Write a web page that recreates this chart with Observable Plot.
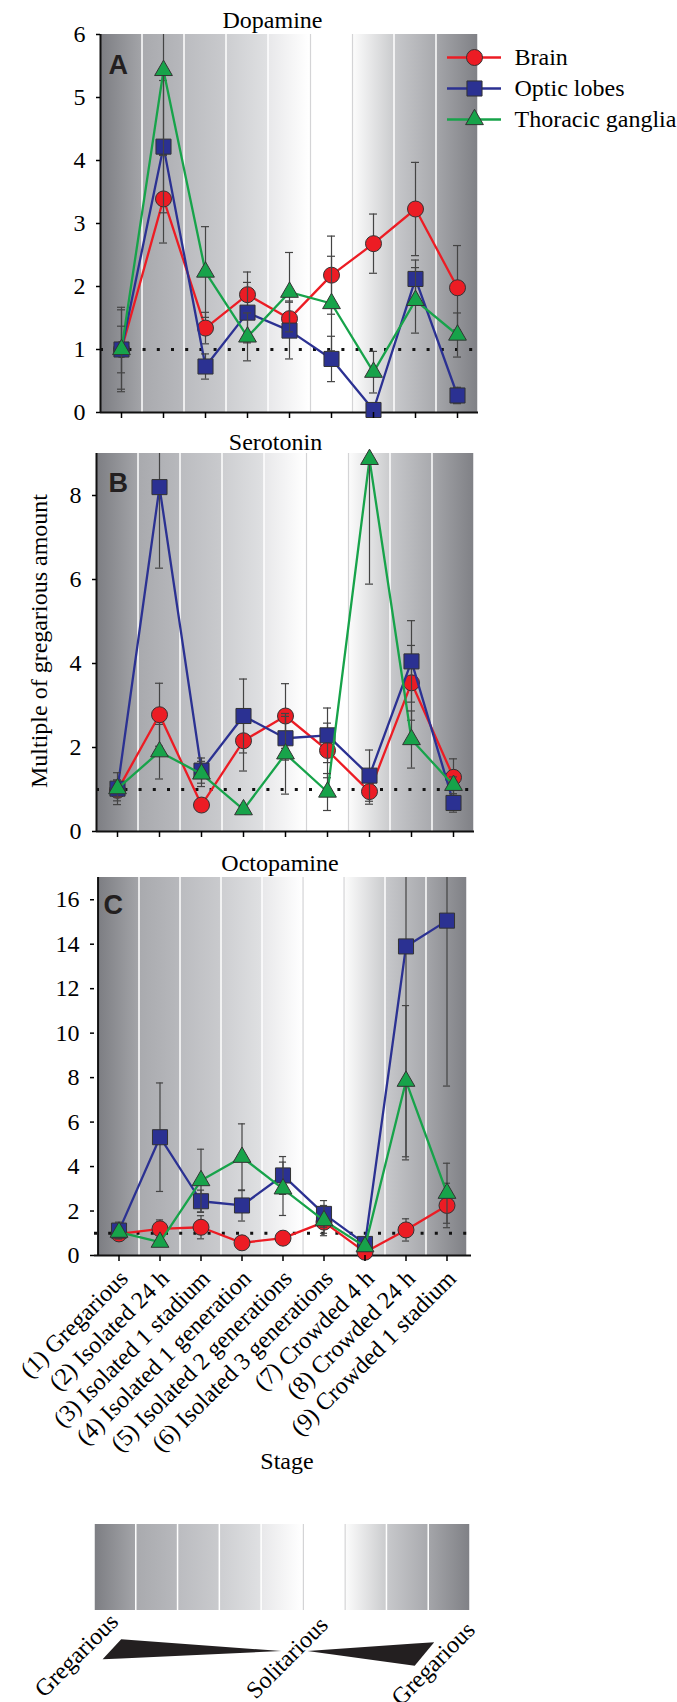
<!DOCTYPE html>
<html><head><meta charset="utf-8">
<script src="https://cdn.jsdelivr.net/npm/d3@7"></script>
<script src="https://cdn.jsdelivr.net/npm/@observablehq/plot@0.6"></script>
<style>
html,body{margin:0;padding:0;background:#fff;overflow:hidden;}
#root{position:relative;width:677px;height:1702px;}
.layer{position:absolute;left:0;}
#root svg{font-family:"Liberation Serif","Times New Roman",Times,"DejaVu Serif",serif !important;}
</style></head><body>
<svg width="0" height="0" style="position:absolute"><defs id="defs"></defs></svg>
<div id="root"></div>
<script>
// ---------- data ----------
const stages = ["(1) Gregarious","(2) Isolated 24 h","(3) Isolated 1 stadium","(4) Isolated 1 generation","(5) Isolated 2 generations","(6) Isolated 3 generations","(7) Crowded 4 h","(8) Crowded 24 h","(9) Crowded 1 stadium"];
const seriesNames = ["Brain","Optic lobes","Thoracic ganglia"];
const seriesColors = ["#ec1c24","#2b3192","#17a34a"];
const seriesSymbols = ["circle","square","triangle"];
const seriesRadius = [8, 8.5, 6.6];

// background shading of each stage band (left edge colour, right edge colour)
const shadeLeft  = ["#7d7e83","#a9aaae","#bbbcc0","#cdced1","#e8e8ea","#ffffff","#fcfcfc","#c7c8cb","#a4a5a9"];
const shadeRight = ["#a3a4a8","#b7b8bc","#c9cacd","#dfe0e2","#ffffff","#ffffff","#cbccce","#a9aaae","#808186"];

// Dopamine
const dopamineBrain       = [1.00, 3.39, 1.34, 1.87, 1.49, 2.18, 2.68, 3.23, 1.98];
const dopamineBrainErr    = [0.63, 0.70, 0.25, 0.36, 0.28, 0.62, 0.47, 0.74, 0.67];
const dopamineOptic       = [1.00, 4.22, 0.73, 1.585, 1.30, 0.85, 0.04, 2.12, 0.27];
const dopamineOpticErr    = [0.67, 1.05, 0.20, 0.48, 0.45, 0.36, 0.05, 0.30, 0.13];
const dopamineThoracic    = [1.00, 5.43, 2.23, 1.20, 1.91, 1.73, 0.64, 1.78, 1.23];
const dopamineThoracicErr = [0.37, 1.35, 0.72, 0.38, 0.63, 0.75, 0.33, 0.52, 0.35];
// Serotonin
const serotoninBrain       = [0.98, 2.78, 0.63, 2.16, 2.75, 1.93, 0.95, 3.54, 1.29];
const serotoninBrainErr    = [0.25, 0.75, 0.10, 0.72, 0.77, 0.65, 0.30, 0.89, 0.44];
const serotoninOptic       = [1.02, 8.20, 1.45, 2.75, 2.22, 2.29, 1.33, 4.05, 0.68];
const serotoninOpticErr    = [0.38, 1.93, 0.30, 0.88, 0.52, 0.65, 0.61, 0.97, 0.22];
const serotoninThoracic    = [1.02, 1.90, 1.37, 0.52, 1.85, 0.94, 8.86, 2.19, 1.10];
const serotoninThoracicErr = [0.20, 0.65, 0.30, 0.10, 0.96, 0.44, 2.97, 0.68, 0.20];
// Octopamine
const octopamineBrain       = [0.97, 1.20, 1.27, 0.57, 0.78, 1.50, 0.15, 1.15, 2.25];
const octopamineBrainErr    = [0.20, 0.40, 0.52, 0.10, 0.10, 0.50, 0.10, 0.50, 1.00];
const octopamineOptic       = [1.12, 5.32, 2.44, 2.25, 3.60, 1.87, 0.52, 13.9, 15.06];
const octopamineOpticErr    = [0.38, 2.44, 0.50, 0.70, 0.85, 0.60, 0.10, 9.60, 7.44];
const octopamineThoracic    = [1.05, 0.60, 3.37, 4.42, 3.00, 1.57, 0.40, 7.84, 2.80];
const octopamineThoracicErr = [0.20, 0.10, 1.41, 1.50, 1.20, 0.68, 0.10, 3.40, 1.35];

const dopamineTicks = [0,1,2,3,4,5,6];
const serotoninTicks = [0,2,4,6,8];
const octopamineTicks = [0,2,4,6,8,10,12,14,16];

// stage schematic (x in stage units, y in bar-height units)
const phaseNames = ["Gregarious","Solitarious","Gregarious"];
const phaseX = [0.60, 5.62, 9.14];
const phaseY = [-0.147, -0.186, -0.244];
const wedgeLeftX = [0.206, 0.651, 4.485];
const wedgeLeftLow = [-0.573, -0.563, -0.477];
const wedgeLeftHigh = [-0.573, -0.341, -0.477];
const wedgeRightX = [5.108, 7.676, 8.143];
const wedgeRightLow = [-0.477, -0.648, -0.376];
const wedgeRightHigh = [-0.477, -0.391, -0.376];

// ---------- gradients ----------
const defs = d3.select("#defs");
stages.forEach((s, i) => {
  const g = defs.append("linearGradient").attr("id", "shade" + i)
    .attr("x1", "0").attr("x2", "1").attr("y1", "0").attr("y2", "0");
  g.append("stop").attr("offset", "0").attr("stop-color", shadeLeft[i]);
  g.append("stop").attr("offset", "1").attr("stop-color", shadeRight[i]);
});

const W = 677;
const FONT = "Liberation Serif";
const SANS = "Liberation Sans";
const root = document.getElementById("root");
function place(el, top) {
  const d = document.createElement("div");
  d.className = "layer";
  d.style.top = top + "px";
  d.appendChild(el);
  root.appendChild(d);
}
const fmtInt = d => String(d);

function makeSeries(vals) {
  return seriesNames.map((n, k) => ({name: n, values: vals[k][0], errors: vals[k][1],
    color: seriesColors[k], symbol: seriesSymbols[k], r: seriesRadius[k]}));
}

function panel(cfg) {
  const {series, yMax, yTicks, ml, mr, mt, mb, height, title, titleDx, titleDy, letter, letterDx, letterDy, extra = [], showLabels = false} = cfg;
  const bw = (W - ml - mr) / stages.length;
  const bands = stages.map((s, i) => ({stage: s, y1: 0, y2: yMax, grad: "url(#shade" + i + ")"}));
  const capInset = (bw - 8) / 2;
  const marks = [
    Plot.barY(bands, {x: "stage", y1: "y1", y2: "y2", fill: "grad", insetLeft: 0.75, insetRight: 0.75}),
    Plot.ruleX([stages[5], stages[6]], {x: d => d, dx: -bw / 2, stroke: "#d4d4d6", strokeWidth: 1.2}),
    Plot.ruleY([1], {stroke: "#111", strokeWidth: 3, strokeDasharray: "3,11.2"}),
    Plot.ruleY([0], {stroke: "#111", strokeWidth: 2}),
    Plot.ruleX([stages[0]], {x: d => d, dx: -bw / 2, stroke: "#111", strokeWidth: 2})
  ];
  series.forEach(s => {
    const rows = stages.map((st, i) => ({stage: st, v: s.values[i], lo: s.values[i] - s.errors[i], hi: s.values[i] + s.errors[i]}));
    marks.push(
      Plot.line(rows, {x: "stage", y: "v", stroke: s.color, strokeWidth: 2.3}),
      Plot.ruleX(rows, {x: "stage", y1: "lo", y2: "hi", stroke: "#444", strokeWidth: 1.2, clip: true}),
      Plot.tickY(rows, {x: "stage", y: "hi", stroke: "#444", strokeWidth: 1.2, insetLeft: capInset, insetRight: capInset, clip: true}),
      Plot.tickY(rows, {x: "stage", y: "lo", stroke: "#444", strokeWidth: 1.2, insetLeft: capInset, insetRight: capInset, clip: true}),
      Plot.dot(rows, {x: "stage", y: "v", symbol: s.symbol, r: s.r, fill: s.color, stroke: "#333", strokeWidth: 1})
    );
  });
  marks.push(
    Plot.axisY({ticks: yTicks, tickFormat: fmtInt, tickSize: 4, tickPadding: 11, strokeWidth: 1.5, label: null, fontFamily: FONT, fontSize: 24}),
    Plot.axisX({tickSize: 6, strokeWidth: 1.5, tickFormat: () => "", label: null}),
    Plot.text([title], {text: d => d, frameAnchor: "top", textAnchor: "middle", dx: titleDx, dy: titleDy, lineAnchor: "bottom", fontFamily: FONT, fontSize: 24}),
    Plot.text([letter], {text: d => d, frameAnchor: "top-left", textAnchor: "start", lineAnchor: "bottom", dx: letterDx, dy: letterDy,
      fontFamily: SANS, fontWeight: "bold", fontSize: 27, fill: "#231f20"})
  );
  if (showLabels) {
    marks.push(Plot.axisX({tickSize: 0, tickPadding: 19, tickRotate: -45, dx: 5, label: null, fontFamily: FONT, fontSize: 24}));
  }
  marks.push(...extra);
  return Plot.plot({
    width: W, height, marginLeft: ml, marginRight: mr, marginTop: mt, marginBottom: mb,
    style: {fontFamily: FONT, fontSize: "24px", color: "#000", background: "transparent", overflow: "visible"},
    x: {type: "band", domain: stages, padding: 0, label: null},
    y: {domain: [0, yMax], label: null},
    color: {type: "identity"},
    marks
  });
}

// Panel A
place(panel({
  series: makeSeries([[dopamineBrain, dopamineBrainErr], [dopamineOptic, dopamineOpticErr], [dopamineThoracic, dopamineThoracicErr]]),
  yMax: 6, yTicks: dopamineTicks, ml: 100, mr: 199, mt: 34, mb: 18, height: 430,
  title: "Dopamine", titleDx: -17, titleDy: -6.5, letter: "A", letterDx: 8, letterDy: 39
}), 0);

// Panel B
place(panel({
  series: makeSeries([[serotoninBrain, serotoninBrainErr], [serotoninOptic, serotoninOpticErr], [serotoninThoracic, serotoninThoracicErr]]),
  yMax: 9, yTicks: serotoninTicks, ml: 96, mr: 203, mt: 23, mb: 29, height: 430,
  title: "Serotonin", titleDx: -10, titleDy: -4, letter: "B", letterDx: 12, letterDy: 38,
  extra: [Plot.text(["Multiple of gregarious amount"], {text: d => d, frameAnchor: "left", textAnchor: "middle", lineAnchor: "middle", rotate: -90, dx: -57, dy: -1.5, fontFamily: FONT, fontSize: 24})]
}), 430);

// Panel C
place(panel({
  series: makeSeries([[octopamineBrain, octopamineBrainErr], [octopamineOptic, octopamineOpticErr], [octopamineThoracic, octopamineThoracicErr]]),
  yMax: 17, yTicks: octopamineTicks, ml: 94, mr: 206, mt: 17, mb: 225, height: 620,
  title: "Octopamine", titleDx: -3, titleDy: -7, letter: "C", letterDx: 9, letterDy: 36, showLabels: true,
  extra: [Plot.text(["Stage"], {text: d => d, frameAnchor: "bottom", textAnchor: "middle", dx: 4, dy: 213, fontFamily: FONT, fontSize: 24})]
}), 860);

// Stage schematic bar
const barBands = stages.map((s, i) => ({x1: i, x2: i + 1, y1: 0, y2: 1, grad: "url(#shade" + i + ")"}));
const wedgeL = wedgeLeftX.map((x, i) => ({x, lo: wedgeLeftLow[i], hi: wedgeLeftHigh[i]}));
const wedgeR = wedgeRightX.map((x, i) => ({x, lo: wedgeRightLow[i], hi: wedgeRightHigh[i]}));
const phases = phaseNames.map((n, i) => ({n, x: phaseX[i], y: phaseY[i]}));
place(Plot.plot({
  width: W, height: 222, marginLeft: 94, marginRight: 207, marginTop: 44, marginBottom: 0,
  style: {fontFamily: FONT, fontSize: "24px", color: "#000", background: "transparent", overflow: "visible"},
  x: {domain: [0, 9], axis: null},
  y: {domain: [-1.07, 1], axis: null},
  color: {type: "identity"},
  marks: [
    Plot.rect(barBands, {x1: "x1", x2: "x2", y1: "y1", y2: "y2", fill: "grad", insetLeft: 0.75, insetRight: 0.75}),
    Plot.ruleX([5, 6], {x: d => d, y1: 0, y2: 1, stroke: "#d4d4d6", strokeWidth: 1.2}),
    Plot.areaY(wedgeL, {x: "x", y1: "lo", y2: "hi", fill: "#231f20"}),
    Plot.areaY(wedgeR, {x: "x", y1: "lo", y2: "hi", fill: "#231f20"}),
    Plot.text(phases, {x: "x", y: "y", text: "n", rotate: -45, textAnchor: "end", lineAnchor: "bottom", fontFamily: FONT, fontSize: 24})
  ]
}), 1480);

// Legend (overlaid on panel A)
const legendRows = seriesNames.map((n, k) => ({n, c: seriesColors[k]}));
place(Plot.plot({
  width: W, height: 140, marginLeft: 447, marginRight: 176, marginTop: 57, marginBottom: 21,
  style: {fontFamily: FONT, fontSize: "24px", color: "#000", background: "transparent", overflow: "visible"},
  y: {type: "point", domain: seriesNames, padding: 0, axis: null},
  color: {type: "identity"},
  marks: [
    Plot.ruleY(legendRows, {y: "n", stroke: "c", strokeWidth: 2.5}),
    ...seriesNames.map((n, k) => Plot.dot([n], {y: d => d, frameAnchor: "middle", symbol: seriesSymbols[k], r: seriesRadius[k], fill: seriesColors[k], stroke: "#333", strokeWidth: 1})),
    Plot.text(seriesNames, {y: d => d, text: d => d, frameAnchor: "right", dx: 13, textAnchor: "start", fontFamily: FONT, fontSize: 24})
  ]
}), 0);
</script>
</body></html>
